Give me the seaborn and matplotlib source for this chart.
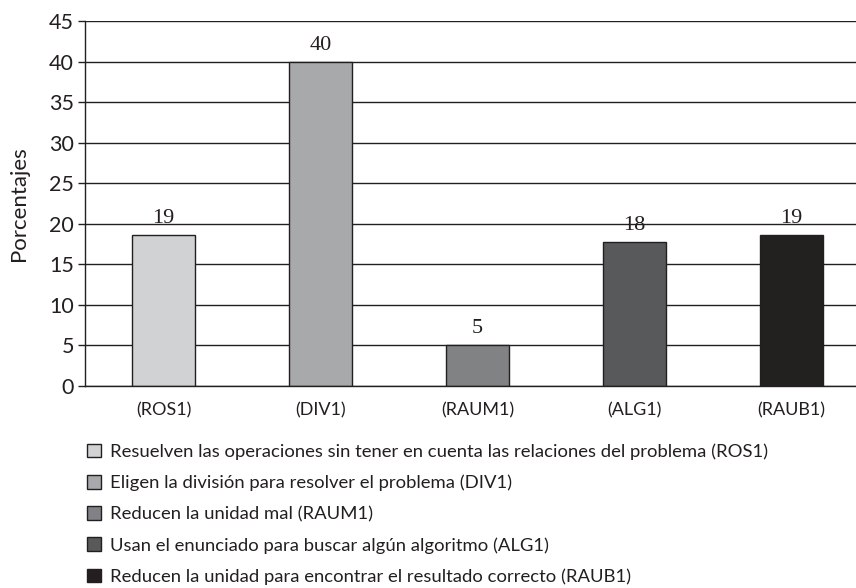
import numpy as np
import pandas as pd
import matplotlib
matplotlib.use("Agg")
import matplotlib.pyplot as plt
from matplotlib.patches import Patch
import seaborn as sns

# data
codes = ["(ROS1)", "(DIV1)", "(RAUM1)", "(ALG1)", "(RAUB1)"]
values = [18.6, 40.0, 5.0, 17.7, 18.6]
descriptions = [
    "Resuelven las operaciones sin tener en cuenta las relaciones del problema (ROS1)",
    "Eligen la división para resolver el problema (DIV1)",
    "Reducen la unidad mal (RAUM1)",
    "Usan el enunciado para buscar algún algoritmo (ALG1)",
    "Reducen la unidad para encontrar el resultado correcto (RAUB1)",
]
colors = ["#d1d2d4", "#a7a9ac", "#808285", "#58595b", "#231f20"]
yticks = [0, 5, 10, 15, 20, 25, 30, 35, 40, 45]

sns.set_style("white")
plt.rcParams["font.family"] = ["Lato", "DejaVu Sans"]
EDGE = "#231f20"

df = pd.DataFrame({"code": codes, "value": values})

fig = plt.figure(figsize=(8.56, 5.88), dpi=100)
ax = fig.add_axes([85 / 856, 1 - 386 / 588, 771 / 856, (386 - 21) / 588])

ax.set_axisbelow(True)
ax.yaxis.grid(True, color="#231f20", linewidth=1.0)

sns.barplot(data=df, x="code", y="value", hue="code", palette=colors,
            dodge=False, width=0.4, edgecolor=EDGE, linewidth=1.0,
            legend=False, ax=ax)

for c in ax.containers:
    ax.bar_label(c, fmt="%.0f", padding=5, fontsize=16,
                 family="Liberation Serif", color=EDGE)

ax.set_xlim(-0.5, 4.41)
ax.set_ylim(0, 45)
ax.set_yticks(yticks)
ax.set_xlabel("")
ax.set_ylabel("Porcentajes", fontsize=16, color=EDGE, labelpad=14)

# ticks between categories on x, outward ticks on y
ax.set_xticks(np.arange(len(codes)))
ax.set_xticklabels(codes)
ax.set_xticks(np.arange(len(codes) - 1) + 0.5, minor=True)
ax.tick_params(axis="x", which="major", length=0, pad=12, labelsize=13,
               labelcolor=EDGE)
ax.tick_params(axis="x", which="minor", length=5, width=1, color=EDGE,
               direction="out")
ax.tick_params(axis="y", length=5, width=1, color=EDGE, direction="out",
               labelsize=15.5, labelcolor=EDGE, pad=3, left=True)

for side in ["top", "right"]:
    ax.spines[side].set_visible(False)
for side in ["left", "bottom"]:
    ax.spines[side].set_color(EDGE)
    ax.spines[side].set_linewidth(1.0)

handles = [Patch(facecolor=col, edgecolor=EDGE, linewidth=1.0) for col in colors]
fig.legend(handles, descriptions, loc="upper left",
           bbox_to_anchor=(80 / 856, 1 - 436 / 588), frameon=False,
           fontsize=13.3, handlelength=0.75, handleheight=0.75,
           handletextpad=0.45, labelspacing=0.8, borderaxespad=0,
           labelcolor=EDGE)

fig.savefig("out.png", dpi=100)
